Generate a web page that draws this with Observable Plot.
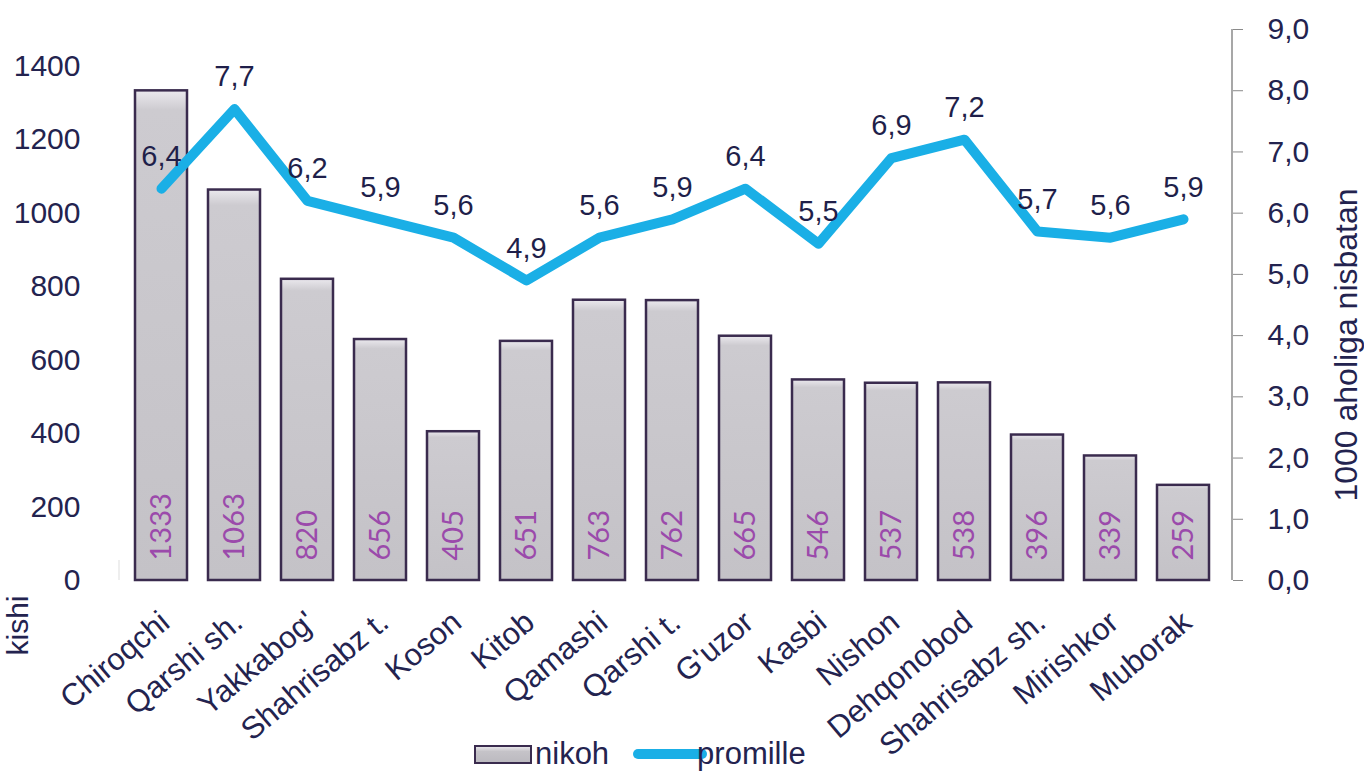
<!DOCTYPE html>
<html><head><meta charset="utf-8">
<script src="https://cdn.jsdelivr.net/npm/d3@7"></script>
<script src="https://cdn.jsdelivr.net/npm/@observablehq/plot@0.6"></script>
<style>
body{margin:0;background:#fff;}
#wrap{position:relative;width:1364px;height:778px;overflow:hidden;}
#legend{position:absolute;left:474px;top:736px;font-family:"Liberation Sans",Arial,sans-serif;font-size:31px;color:#23234f;display:flex;align-items:center;white-space:nowrap;}
#legend .box{width:54px;height:15px;border:2.5px solid #3a2b4e;background:linear-gradient(#e6e4e8,#c5c3c8 30%,#bcbac0);margin-right:3px;}
#legend .ln{width:74px;height:10px;border-radius:5px;background:#1aafe6;margin-left:24px;margin-right:-10px;position:relative;z-index:-1;}
</style></head><body><div id="wrap"><div id="chart"></div>
<div id="legend"><span class="box"></span><span>nikoh</span><span class="ln"></span><span>promille</span></div></div>
<script>
const districts = ["Chiroqchi","Qarshi sh.","Yakkabog'","Shahrisabz t.","Koson","Kitob","Qamashi","Qarshi t.","G'uzor","Kasbi","Nishon","Dehqonobod","Shahrisabz sh.","Mirishkor","Muborak"];
const nikoh = [1333,1063,820,656,405,651,763,762,665,546,537,538,396,339,259];
const promille = [6.4,7.7,6.2,5.9,5.6,4.9,5.6,5.9,6.4,5.5,6.9,7.2,5.7,5.6,5.9];
const leftTicks = [0,200,400,600,800,1000,1200,1400];
const rightTicks = [0,1,2,3,4,5,6,7,8,9];
const leftMax = 1500, rightMax = 9;
const k = leftMax / rightMax;

const data = districts.map((d,i)=>({district:d, nikoh:nikoh[i], promille:promille[i]}));
const comma = v => v.toFixed(1).replace(".", ",");
const navy = "#23234f";

const chart = Plot.plot({
  width:1364, height:778,
  marginLeft:111, marginRight:132, marginTop:29, marginBottom:198,
  style:{fontFamily:'"Liberation Sans", Arial, sans-serif', color:navy, background:"transparent", overflow:"visible"},
  x:{domain:districts, padding:0.29, axis:null},
  y:{domain:[0,leftMax], axis:null},
  marks:[
    Plot.axisY(leftTicks, {anchor:"left", tickSize:0, tickPadding:31, fontSize:30, label:null, fill:navy, tickFormat:d=>String(d)}),
    Plot.axisY(rightTicks.map(v=>v*k), {anchor:"right", tickSize:10, tickPadding:25, fontSize:30, label:null, stroke:"#8a8a8a", fill:navy, tickFormat:d=>comma(d/k)}),
    Plot.barY(data, {x:"district", y:"nikoh", fill:"url(#barGrad)", stroke:"#3a2b4e", strokeWidth:2.5}),
    Plot.text(data, {x:"district", y:0, text:d=>String(d.nikoh), rotate:-90, textAnchor:"start", dy:-20, fill:"#9b4aab", fontSize:29, fontFamily:"Lato, 'Open Sans', sans-serif"}),
    Plot.line(data, {x:"district", y:d=>d.promille*k, stroke:"#1aafe6", strokeWidth:10, strokeLinejoin:"round", strokeLinecap:"round"}),
    Plot.text(data, {x:"district", y:d=>d.promille*k, text:d=>comma(d.promille), dy:-32, fontSize:29, fill:"#1f1f4a"}),
    Plot.text(districts, {x:d=>d, frameAnchor:"bottom", rotate:-40, textAnchor:"end", dx:10, dy:45, fontSize:31, fill:navy}),
    Plot.text(["kishi"], {frameAnchor:"bottom-left", dx:-84, dy:15, rotate:-90, textAnchor:"end", fontSize:30, fill:navy}),
    Plot.text(["1000 aholiga nisbatan"], {frameAnchor:"right", dx:114, dy:40, rotate:-90, textAnchor:"middle", fontSize:32, fill:navy})
  ]
});

const svg = d3.select(chart);
const defs = svg.insert("defs", ":first-child");
const g = defs.append("linearGradient").attr("id","barGrad").attr("x1",0).attr("y1",0).attr("x2",0).attr("y2",1);
g.append("stop").attr("offset","0%").attr("stop-color","#ebe9ee");
g.append("stop").attr("offset","4%").attr("stop-color","#cdcbd0");
g.append("stop").attr("offset","100%").attr("stop-color","#c4c2c7");
const xr = chart.scale("x").range, yr = chart.scale("y").range;
svg.append("line").attr("x1",xr[1]).attr("x2",xr[1]).attr("y1",yr[0]).attr("y2",yr[1]).attr("stroke","#8a8a8a").attr("stroke-width",1.5);
svg.append("line").attr("x1",xr[0]+8).attr("x2",xr[0]+8).attr("y1",yr[0]).attr("y2",yr[0]-20).attr("stroke","#dddddd").attr("stroke-width",1);
document.getElementById("chart").appendChild(chart);
</script></body></html>
